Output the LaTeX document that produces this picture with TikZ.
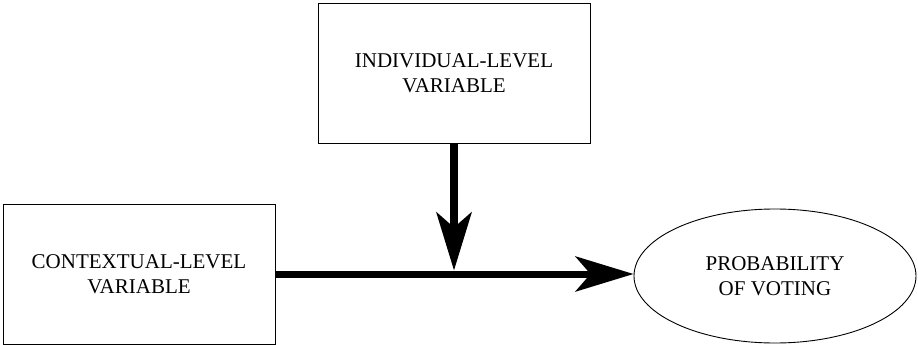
\documentclass[tikz,border=0pt]{standalone}
\usepackage{fontspec}
\setmainfont{Liberation Serif}
\usetikzlibrary{arrows.meta,shapes.geometric}
\begin{document}
\begin{tikzpicture}[x=1pt,y=-1pt,
	box/.style={draw,line width=0.9pt,minimum width=272pt,minimum height=140pt,inner sep=0pt,align=center,font=\fontsize{21}{24.5}\selectfont},
	oval/.style={draw,ellipse,line width=0.9pt,minimum width=282pt,minimum height=134pt,inner sep=0pt,align=center,font=\fontsize{21}{24.5}\selectfont},
	flow/.style={-{Stealth[length=58pt,width=35pt,inset=15pt]}}]
	\useasboundingbox (0,0) rectangle (918,345);
	\node [box] at (454,73) (indiv) {INDIVIDUAL-LEVEL\\VARIABLE};
	\node [box] at (139,274) (context) {CONTEXTUAL-LEVEL\\VARIABLE};
	\node [oval] at (775,276) (vote) {PROBABILITY\\OF VOTING};
	\coordinate (join) at (454,270.5);
	\draw [flow,line width=7pt] (context.east |- 0,274) -- (vote.west |- 0,274);
	\draw [flow,line width=8pt] (indiv.south) -- (join);
\end{tikzpicture}
\end{document}
